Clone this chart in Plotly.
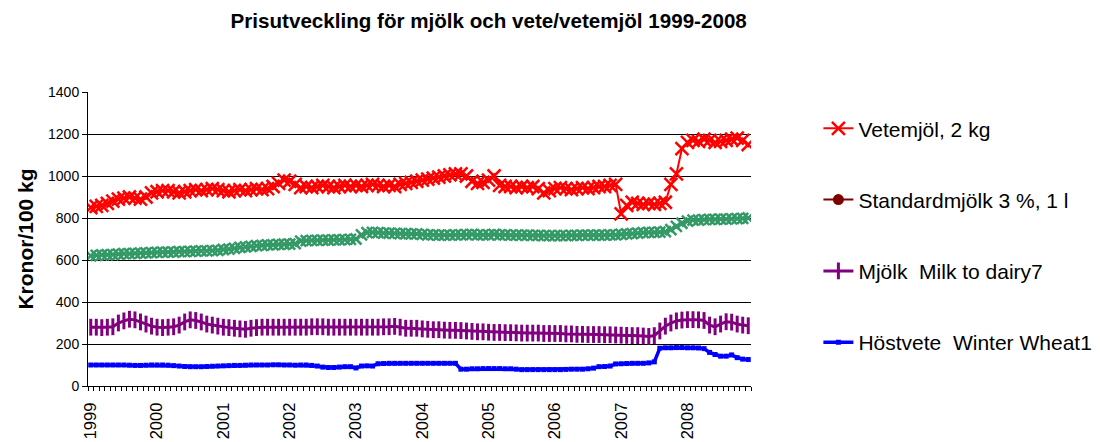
import plotly.graph_objects as go

years = ["1999", "2000", "2001", "2002", "2003", "2004", "2005", "2006", "2007", "2008"]
months = list(range(120))

vetemjol = [
    850, 855, 860, 870, 880, 890, 895, 900, 895, 890, 900, 920,
    925, 930, 930, 925, 920, 925, 930, 935, 930, 935, 940, 935,
    930, 925, 930, 935, 930, 935, 940, 935, 940, 950, 965, 980,
    975, 960, 945, 950, 945, 950, 955, 950, 945, 950, 955, 950,
    955, 950, 955, 960, 955, 950, 955, 950, 960, 965, 970, 975,
    980, 985, 990, 995, 1000, 1005, 1010, 1010, 1000, 975, 965, 970,
    980, 1000, 955, 950, 950, 945, 950, 945, 950, 940, 920, 930,
    940, 945, 940, 935, 940, 945, 940, 945, 950, 950, 955, 960,
    820, 860, 875, 870, 865, 870, 865, 870, 875, 960, 1010, 1130,
    1160, 1170, 1165, 1175, 1170, 1160, 1165, 1170, 1175, 1180, 1170, 1150,
]

standardmjolk = [
    620, 622, 624, 625, 626, 628, 630, 630, 632, 633, 634, 635,
    636, 637, 638, 638, 640, 640, 641, 642, 643, 644, 645, 646,
    650, 652, 655, 660, 662, 665, 668, 670, 672, 672, 674, 675,
    676, 678, 690, 692, 693, 694, 695, 695, 696, 696, 697, 698,
    700, 720, 730, 732, 730, 728, 728, 727, 726, 725, 724, 724,
    722, 720, 720, 718, 718, 718, 720, 720, 721, 722, 720, 720,
    720, 722, 720, 720, 718, 718, 718, 718, 717, 717, 716, 716,
    716, 716, 716, 717, 717, 718, 718, 718, 719, 719, 720, 720,
    722, 724, 726, 728, 730, 731, 732, 733, 735, 745, 760, 775,
    785, 790, 790, 792, 793, 794, 795, 795, 796, 797, 798, 800,
]

mjolk = [
    280, 280, 278, 280, 282, 300, 310, 318, 315, 305, 295, 285,
    280, 278, 280, 282, 290, 305, 315, 312, 305, 295, 290, 285,
    280, 278, 275, 272, 270, 275, 278, 280, 280, 280, 280, 280,
    280, 280, 280, 280, 282, 282, 282, 280, 280, 280, 280, 280,
    280, 280, 280, 280, 280, 282, 282, 284, 280, 275, 275, 275,
    272, 270, 268, 268, 266, 265, 265, 264, 262, 260, 258, 258,
    256, 255, 255, 254, 254, 253, 252, 252, 252, 252, 250, 250,
    250, 250, 248, 248, 246, 246, 245, 245, 245, 244, 244, 243,
    242, 241, 240, 240, 238, 236, 240, 262, 285, 300, 310, 314,
    316, 316, 315, 312, 290, 282, 295, 306, 304, 295, 290, 287,
]

hostvete = [
    100, 100, 100, 100, 100, 100, 100, 99, 98, 98, 99, 100,
    100, 100, 99, 97, 95, 93, 92, 92, 92, 93, 94, 95,
    96, 97, 98, 98, 99, 100, 100, 100, 100, 101, 101, 100,
    100, 99, 100, 100, 98, 95, 90, 88, 88, 90, 92, 92,
    86, 95, 96, 95, 106, 107, 108, 108, 108, 108, 108, 108,
    108, 108, 108, 108, 108, 108, 108, 80, 80, 82, 82, 83,
    83, 83, 83, 82, 82, 80, 78, 78, 78, 78, 78, 78,
    78, 78, 79, 80, 80, 80, 82, 85, 92, 93, 95, 105,
    106, 107, 108, 108, 108, 110, 115, 180, 182, 182, 183, 183,
    182, 182, 181, 178, 160, 150, 142, 142, 148, 135, 128, 126,
]

names = ["Vetemjöl, 2 kg", "Standardmjölk 3 %, 1 l", "Mjölk  Milk to dairy7", "Höstvete  Winter Wheat1"]

FONT = "Arial, Liberation Sans, sans-serif"

fig = go.Figure()

# Green series (plotted, no legend entry of its own)
fig.add_trace(go.Scatter(
    x=months, y=standardmjolk, mode="lines+markers", showlegend=False,
    line=dict(color="#339966", width=2),
    marker=dict(symbol="x-thin", size=11, line=dict(color="#339966", width=2.5), color="#339966"),
))

fig.add_trace(go.Scatter(
    x=months, y=vetemjol, mode="lines+markers", name=names[0], legendgroup="a",
    line=dict(color="#FF0000", width=2),
    marker=dict(symbol="x-thin", size=13, line=dict(color="#FF0000", width=2.5), color="#FF0000"),
))

# Legend-only entry for Standardmjölk (as displayed in the original legend)
fig.add_trace(go.Scatter(
    x=[None], y=[None], mode="lines+markers", name=names[1], legendgroup="b",
    line=dict(color="#800000", width=2),
    marker=dict(symbol="circle", size=11, color="#800000"),
))

fig.add_trace(go.Scatter(
    x=months, y=mjolk, mode="lines+markers", name=names[2], legendgroup="c",
    line=dict(color="#800080", width=3),
    marker=dict(symbol="line-ns", size=12, line=dict(color="#800080", width=3), color="#800080"),
))

fig.add_trace(go.Scatter(
    x=months, y=hostvete, mode="lines+markers", name=names[3], legendgroup="d",
    line=dict(color="#0000FF", width=3.5),
    marker=dict(symbol="square", size=5, color="#0000FF"),
))

fig.update_layout(
    width=1100, height=442,
    margin=dict(l=80, r=356, t=84, b=64),
    paper_bgcolor="white", plot_bgcolor="white",
    font=dict(family=FONT, color="black", size=14),
    title=dict(text="<b>Prisutveckling för mjölk och vete/vetemjöl 1999-2008</b>",
               x=0.437, xanchor="center", y=0.971, yanchor="middle",
               font=dict(family=FONT, size=20.6, color="black")),
    legend=dict(x=1.1, xanchor="left", y=0.945, yanchor="top",
                font=dict(family=FONT, size=21, color="black"),
                tracegroupgap=41, bgcolor="rgba(0,0,0,0)"),
    showlegend=True,
)

fig.update_xaxes(
    range=[-0.5, 119.5],
    tickmode="array", tickvals=[12 * i for i in range(len(years))], ticktext=years,
    tickangle=-90, ticks="", tickfont=dict(family=FONT, size=16.5, color="black"),
    ticklabelstandoff=9,
    showgrid=False, zeroline=False,
    showline=True, linecolor="black", linewidth=1,
    minor=dict(tickmode="linear", tick0=-0.5, dtick=1, ticks="outside", ticklen=4,
               tickcolor="black", tickwidth=1, showgrid=False),
)

fig.update_yaxes(
    range=[0, 1400], tickmode="linear", tick0=0, dtick=200,
    ticks="outside", ticklen=5, tickcolor="black",
    tickfont=dict(family=FONT, size=14, color="black"),
    showgrid=True, gridcolor="black", gridwidth=1,
    zeroline=False, showline=True, linecolor="black", linewidth=1,
    title=dict(text="<b>Kronor/100 kg</b>", font=dict(family=FONT, size=21, color="black"), standoff=8),
)

fig.write_html("out.html")
